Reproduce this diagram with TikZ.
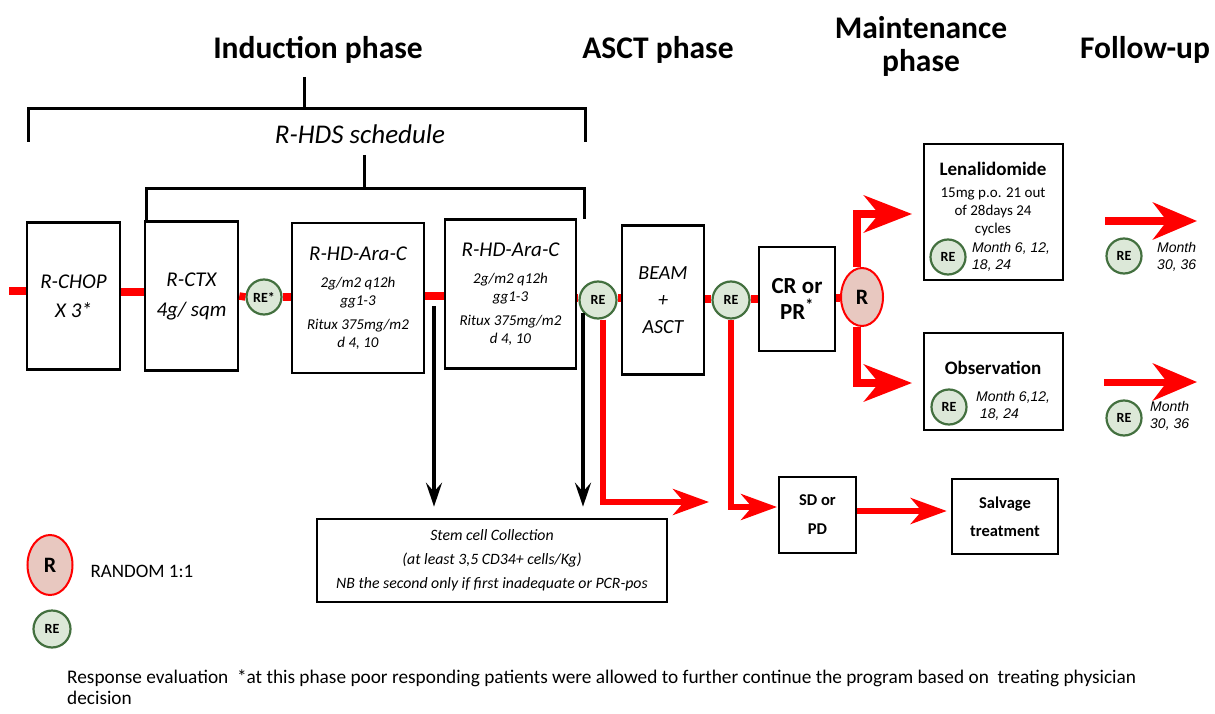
\documentclass[tikz,border=0pt]{standalone}
\usepackage{fontspec}
\setmainfont{Carlito}
\newfontfamily\arialfont{Liberation Sans}
\usetikzlibrary{arrows.meta,shapes.geometric}
\newcommand{\fsz}[2]{\fontsize{#1pt}{#2pt}\selectfont}
\definecolor{regreen}{HTML}{43703F}
\definecolor{refill}{HTML}{DCE8D8}
\definecolor{rfill}{HTML}{E8C8C0}
\definecolor{flowred}{HTML}{FF0000}

\begin{document}
\begin{tikzpicture}[x=1pt,y=-1pt,
  box/.style={draw=black, line width=2.6pt, fill=white, align=center, inner sep=1pt},
  renode/.style={circle, draw=regreen, fill=refill, line width=2.2pt, inner sep=0pt,
    minimum size=35pt, font=\bfseries\fsz{14}{16}},
  rnode/.style={ellipse, draw=flowred, fill=rfill, line width=2pt, inner sep=0pt,
    minimum width=42pt, minimum height=58pt, font=\bfseries\fsz{22}{24}},
  heading/.style={font=\bfseries\fsz{31.5}{33}, align=center},
  bracket/.style={black, line width=3pt},
  mainline/.style={flowred, line width=7.5pt},
  bigarrow/.style={flowred, line width=7.5pt, -{Stealth[length=48pt,width=37pt,inset=15pt]}},
  fuarrow/.style={flowred, line width=7pt, -{Stealth[length=44pt,width=37pt,inset=14pt]}},
  smallarrow/.style={flowred, line width=5.5pt, -{Stealth[length=36pt,width=26pt,inset=11pt]}},
  blkarrow/.style={black, line width=3.4pt, -{Stealth[length=24pt,width=16pt,inset=9pt]}},
  month/.style={font=\arialfont\itshape\fsz{14}{17}, align=left, inner sep=0pt}
]
\useasboundingbox (0,0) rectangle (1215,714);

% phase headings
\node[heading] (hind) at (318,50) {Induction phase};
\node[heading] (hasct) at (658,50) {ASCT phase};
\node[heading] (hmain) at (921,46) {Maintenance\\phase};
\node[heading] (hfol) at (1145,50) {Follow-up};

% R-HDS brackets
\coordinate (b1top) at (304,77);
\coordinate (b1mid) at (304,109);
\coordinate (b1l) at (28,109);
\coordinate (b1r) at (585,109);
\draw[bracket] (b1top) -- (b1mid);
\draw[bracket] (b1l |- 0,142) -- (b1l) -- (b1r) -- (b1r |- 0,142);
\node[font=\itshape\fsz{27}{30}] (hds) at (360,134) {R-HDS schedule};
\coordinate (b2top) at (364,155);
\coordinate (b2mid) at (364,189);
\coordinate (b2l) at (146,189);
\coordinate (b2r) at (584,189);
\draw[bracket] (b2top) -- (b2mid);
\draw[bracket] (b2l |- 0,222) -- (b2l) -- (b2r) -- (b2r |- 0,219);

% main treatment line
\node[box, minimum width=93pt, minimum height=147pt, font=\itshape\fsz{21}{29}] (rchop) at (73.5,296) {R-CHOP\\X 3*};
\node[box, minimum width=93pt, minimum height=149pt, font=\itshape\fsz{21}{30}] (rctx) at (191.5,296) {R-CTX\\4g/ sqm};
\node[renode] (restar) at (264,297) {RE*};
\node[box, minimum width=132pt, minimum height=150pt, font=\itshape\fsz{15}{18}] (ara1) at (358,298)
  {{\fsz{21}{24}R-HD-Ara-C}\\[9pt]2g/m2 q12h\\gg1-3\\[6pt]Ritux 375mg/m2\\d 4, 10};
\node[box, minimum width=131pt, minimum height=149pt, font=\itshape\fsz{15}{18}] (ara2) at (510.5,294)
  {{\fsz{21}{24}R-HD-Ara-C}\\[9pt]2g/m2 q12h\\gg1-3\\[6pt]Ritux 375mg/m2\\d 4, 10};
\node[renode, minimum size=37pt] (re1) at (598,300) {RE};
\node[box, minimum width=82pt, minimum height=149pt, font=\itshape\fsz{20}{27}] (beam) at (663,300) {BEAM\\+\\ASCT};
\node[renode, minimum size=37pt] (re2) at (731,300) {RE};
\node[box, minimum width=76pt, minimum height=104pt, font=\bfseries\fsz{23}{26}] (crpr) at (797,299) {CR or\\PR\textsuperscript{*}};
\node[rnode] (rand) at (862,297) {R};

\coordinate (start) at (9,291);
\draw[mainline] (start) -- (start -| rchop.west);
\draw[mainline] (rchop.east |- 0,292) -- (rctx.west |- 0,292);
\draw[mainline] (rctx.east |- 0,296) -- (restar.west);
\draw[mainline] (restar.east) -- (ara1.west |- restar.east);
\draw[mainline] (ara1.east |- 0,296) -- (ara2.west |- 0,296);
\draw[mainline] (ara2.east |- 0,298) -- (re1.west |- 0,298);
\draw[mainline] (re1.east |- 0,298) -- (beam.west |- 0,298);
\draw[mainline] (beam.east |- 0,299) -- (re2.west |- 0,299);
\draw[mainline] (re2.east |- 0,299) -- (crpr.west |- 0,299);
\draw[mainline] (crpr.east |- 0,298) -- (rand.west |- 0,298);

% maintenance arms
\node[box, minimum width=139pt, minimum height=136pt] (leni) at (993.5,212) {};
\node[font=\fsz{15}{18}, align=center, inner sep=0pt, anchor=north] (lenitx) at (993,162)
  {{\bfseries\fsz{19}{22}Lenalidomide}\\[4pt]15mg p.o. 21 out\\of 28days 24\\cycles};
\node[renode] (rel) at (948,257) {RE};
\node[month, anchor=west] (mleni) at (972,257) {Month 6, 12,\\18, 24};

\node[box, minimum width=139pt, minimum height=97pt] (obs) at (993.5,381.5) {};
\node[font=\bfseries\fsz{19}{22}, inner sep=0pt] (obstx) at (993,368) {Observation};
\node[renode] (reo) at (949,407) {RE};
\node[month, anchor=west] (mobs) at (976,406) {Month 6,12,\\\ 18, 24};

\coordinate (tipl) at (912,214);
\coordinate (tipo) at (912,383);
\draw[bigarrow] ([xshift=-5pt]rand.north) |- (tipl);
\draw[bigarrow] ([xshift=-5pt]rand.south) |- (tipo);

% follow-up
\coordinate (fu1a) at (1105,221);
\coordinate (fu1b) at (1197,221);
\coordinate (fu2a) at (1104,382);
\coordinate (fu2b) at (1197,382);
\draw[fuarrow] (fu1a) -- (fu1b);
\draw[fuarrow] (fu2a) -- (fu2b);
\node[renode] (ref1) at (1124,256) {RE};
\node[month, anchor=west] (mf1) at (1157,257) {Month\\30, 36};
\node[renode] (ref2) at (1124,418) {RE};
\node[month, anchor=west] (mf2) at (1150,416) {Month\\30, 36};

% stem cell collection
\node[box, minimum width=350pt, minimum height=83pt, font=\itshape\fsz{15.8}{24}] (stem) at (492,560.5)
  {Stem cell Collection\\(at least 3,5 CD34+ cells/Kg)\\NB the second only if first inadequate or PCR-pos};
\coordinate (c1) at (434,306);
\coordinate (c2) at (583,313);
\draw[blkarrow] (c1) -- ([yshift=11pt]c1 |- stem.north);
\draw[blkarrow] (c2) -- ([yshift=11pt]c2 |- stem.north);

% progression branch
\node[box, minimum width=77pt, minimum height=76pt, font=\bfseries\fsz{16.5}{29}] (sdpd) at (817.5,515) {SD or\\PD};
\node[box, minimum width=106pt, minimum height=75pt, font=\bfseries\fsz{16.5}{28}] (salv) at (1005,516.5) {Salvage\\treatment};
\coordinate (tipa) at (709,502);
\coordinate (tipb) at (777,507);
\draw[smallarrow] ([xshift=5pt]re1.south) |- (tipa);
\draw[smallarrow] (re2.south) |- (tipb);
\draw[smallarrow] (sdpd.east |- 0,511) -- ([xshift=-4pt]salv.west |- 0,511);

% legend
\node[rnode, minimum width=45pt, minimum height=60pt] (legr) at (50,565) {R};
\node[anchor=west, font=\fsz{19}{22}] (legrt) at (87,571) {RANDOM 1:1};
\node[renode, minimum size=37pt] (legre) at (52,629) {RE};

% footnote
\node[anchor=north west, font=\fsz{19.3}{21}, align=left, inner sep=0pt] (foot) at (67,670)
  {Response evaluation\ \ *at this phase poor responding patients were allowed to further continue the program based on\ \ treating physician\\decision};
\end{tikzpicture}
\end{document}
